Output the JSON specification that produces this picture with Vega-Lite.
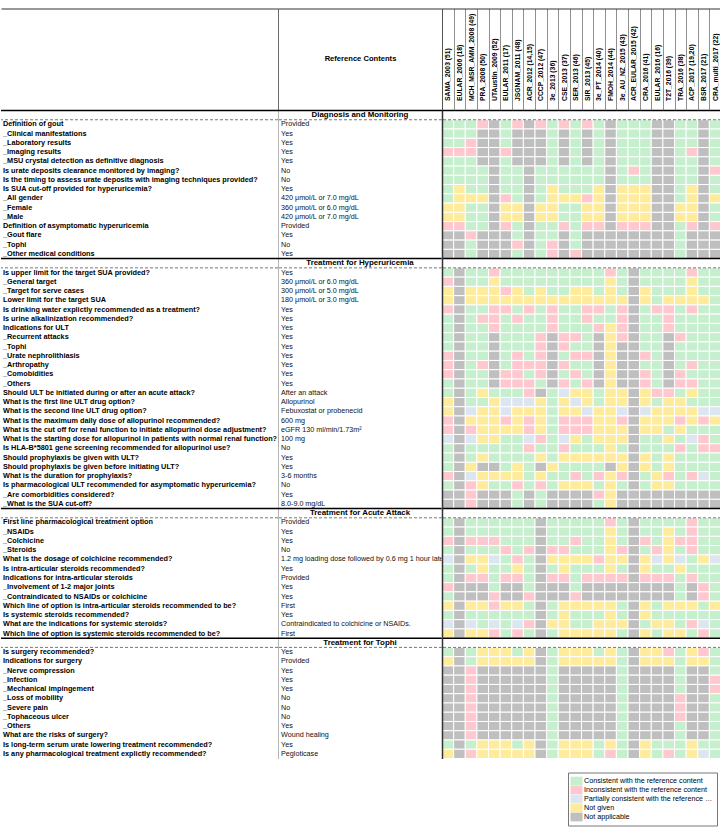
{
"$schema":"https://vega.github.io/schema/vega-lite/v6.json",
"padding":{"left":0,"top":7.5,"right":0,"bottom":0},
"background":"white",
"config":{"view":{"stroke":null},"font":"Liberation Sans"},
"spacing":0,
"bounds":"flush",
"datasets":{
"cols":[{"k":"A","o":0,"name":"SAMA_2003 (51)"},{"k":"B","o":1,"name":"EULAR_2006 (18)"},{"k":"C","o":2,"name":"MCH_MSR_AMM_2008 (49)"},{"k":"D","o":3,"name":"PRA_2008 (50)"},{"k":"E","o":4,"name":"UTAustin_2009 (52)"},{"k":"F","o":5,"name":"EULAR_2011 (17)"},{"k":"G","o":6,"name":"JSGNAM_2011 (48)"},{"k":"H","o":7,"name":"ACR_2012 (14,15)"},{"k":"I","o":8,"name":"CCCP_2012 (47)"},{"k":"J","o":9,"name":"3e_2013 (36)"},{"k":"K","o":10,"name":"CSE_2013 (37)"},{"k":"L","o":11,"name":"SER_2013 (46)"},{"k":"M","o":12,"name":"SIR_2013 (45)"},{"k":"N","o":13,"name":"3e_PT_2014 (40)"},{"k":"O","o":14,"name":"FMOH_2014 (44)"},{"k":"P","o":15,"name":"3e_AU_NZ_2015 (43)"},{"k":"Q","o":16,"name":"ACR_EULAR_2015 (42)"},{"k":"R","o":17,"name":"CRA_2016 (41)"},{"k":"S","o":18,"name":"EULAR_2016 (16)"},{"k":"T","o":19,"name":"T2T_2016 (39)"},{"k":"U","o":20,"name":"TRA_2016 (38)"},{"k":"V","o":21,"name":"ACP_2017 (19,20)"},{"k":"W","o":22,"name":"BSR_2017 (21)"},{"k":"X","o":23,"name":"CRA_multi_2017 (22)"}],
"t":[
{"idx":0,"sec":"Diagnosis and Monitoring","q":"","ref":""},
{"idx":1,"q":"Definition of gout","ref":"Provided","A":"G","B":"G","C":"G","D":"R","E":"X","F":"G","G":"R","H":"X","I":"R","J":"G","K":"R","L":"G","M":"R","N":"G","O":"X","P":"G","Q":"G","R":"G","S":"X","T":"X","U":"G","V":"G","W":"X","X":"G"},
{"idx":2,"q":"_Clinical manifestations","ref":"Yes","A":"G","B":"G","C":"G","D":"X","E":"X","F":"G","G":"X","H":"X","I":"X","J":"G","K":"X","L":"G","M":"X","N":"G","O":"X","P":"G","Q":"G","R":"G","S":"X","T":"X","U":"G","V":"G","W":"X","X":"G"},
{"idx":3,"q":"_Laboratory results","ref":"Yes","A":"G","B":"G","C":"R","D":"X","E":"X","F":"G","G":"X","H":"X","I":"X","J":"G","K":"X","L":"G","M":"X","N":"G","O":"X","P":"G","Q":"G","R":"G","S":"X","T":"X","U":"G","V":"G","W":"X","X":"G"},
{"idx":4,"q":"_Imaging results","ref":"Yes","A":"R","B":"R","C":"R","D":"X","E":"X","F":"R","G":"X","H":"X","I":"X","J":"G","K":"X","L":"G","M":"X","N":"G","O":"X","P":"G","Q":"G","R":"G","S":"X","T":"X","U":"G","V":"R","W":"X","X":"G"},
{"idx":5,"q":"_MSU crystal detection as definitive diagnosis","ref":"Yes","A":"G","B":"G","C":"G","D":"X","E":"X","F":"G","G":"X","H":"X","I":"X","J":"G","K":"X","L":"G","M":"X","N":"G","O":"X","P":"G","Q":"G","R":"G","S":"X","T":"X","U":"G","V":"G","W":"X","X":"G"},
{"idx":6,"q":"Is urate deposits clearance monitored by imaging?","ref":"No","A":"G","B":"G","C":"G","D":"G","E":"X","F":"G","G":"G","H":"X","I":"G","J":"G","K":"G","L":"G","M":"G","N":"G","O":"X","P":"G","Q":"R","R":"G","S":"X","T":"X","U":"G","V":"G","W":"X","X":"R"},
{"idx":7,"q":"Is the timing to assess urate deposits with imaging techniques provided?","ref":"No","A":"G","B":"G","C":"G","D":"G","E":"X","F":"G","G":"G","H":"X","I":"G","J":"G","K":"G","L":"G","M":"G","N":"G","O":"X","P":"G","Q":"G","R":"G","S":"X","T":"X","U":"G","V":"G","W":"X","X":"G"},
{"idx":8,"q":"Is SUA cut-off provided for hyperuricemia?","ref":"Yes","A":"G","B":"Y","C":"G","D":"G","E":"X","F":"G","G":"G","H":"X","I":"G","J":"Y","K":"G","L":"G","M":"G","N":"Y","O":"X","P":"Y","Q":"Y","R":"Y","S":"X","T":"X","U":"G","V":"Y","W":"X","X":"G"},
{"idx":9,"q":"_All gender","ref":"420 μmol/L or 7.0 mg/dL","A":"G","B":"Y","C":"Y","D":"Y","E":"X","F":"R","G":"G","H":"X","I":"G","J":"Y","K":"Y","L":"Y","M":"R","N":"Y","O":"X","P":"Y","Q":"Y","R":"Y","S":"X","T":"X","U":"G","V":"Y","W":"X","X":"Y"},
{"idx":10,"q":"_Female","ref":"360 μmol/L or 6.0 mg/dL","A":"Y","B":"Y","C":"G","D":"G","E":"X","F":"Y","G":"Y","H":"X","I":"Y","J":"Y","K":"G","L":"G","M":"Y","N":"Y","O":"X","P":"Y","Q":"Y","R":"Y","S":"X","T":"X","U":"Y","V":"Y","W":"X","X":"G"},
{"idx":11,"q":"_Male","ref":"420 μmol/L or 7.0 mg/dL","A":"Y","B":"Y","C":"G","D":"G","E":"X","F":"Y","G":"Y","H":"X","I":"Y","J":"Y","K":"G","L":"G","M":"Y","N":"Y","O":"X","P":"Y","Q":"Y","R":"Y","S":"X","T":"X","U":"Y","V":"Y","W":"X","X":"G"},
{"idx":12,"q":"Definition of asymptomatic hyperuricemia","ref":"Provided","A":"R","B":"R","C":"G","D":"G","E":"X","F":"R","G":"G","H":"X","I":"G","J":"G","K":"R","L":"G","M":"R","N":"R","O":"X","P":"R","Q":"R","R":"R","S":"X","T":"X","U":"G","V":"R","W":"X","X":"R"},
{"idx":13,"q":"_Gout flare","ref":"Yes","A":"X","B":"X","C":"R","D":"X","E":"X","F":"X","G":"G","H":"X","I":"G","J":"G","K":"X","L":"G","M":"X","N":"X","O":"X","P":"X","Q":"X","R":"X","S":"X","T":"X","U":"G","V":"X","W":"X","X":"X"},
{"idx":14,"q":"_Tophi","ref":"No","A":"X","B":"X","C":"G","D":"X","E":"X","F":"X","G":"R","H":"X","I":"G","J":"R","K":"X","L":"G","M":"X","N":"X","O":"X","P":"X","Q":"X","R":"X","S":"X","T":"X","U":"G","V":"X","W":"X","X":"X"},
{"idx":15,"q":"_Other medical conditions","ref":"Yes","A":"X","B":"X","C":"G","D":"X","E":"X","F":"X","G":"G","H":"X","I":"G","J":"R","K":"X","L":"R","M":"X","N":"X","O":"X","P":"X","Q":"X","R":"X","S":"X","T":"X","U":"G","V":"X","W":"X","X":"X"},
{"idx":16,"sec":"Treatment for Hyperuricemia","q":"","ref":""},
{"idx":17,"q":"Is upper limit for the target SUA provided?","ref":"Yes","A":"G","B":"X","C":"G","D":"G","E":"R","F":"G","G":"G","H":"G","I":"G","J":"G","K":"G","L":"G","M":"G","N":"G","O":"R","P":"G","Q":"X","R":"G","S":"G","T":"G","U":"G","V":"R","W":"G","X":"G"},
{"idx":18,"q":"_General target","ref":"360 μmol/L or 6.0 mg/dL","A":"R","B":"X","C":"G","D":"G","E":"Y","F":"G","G":"G","H":"G","I":"G","J":"G","K":"G","L":"G","M":"G","N":"G","O":"Y","P":"G","Q":"X","R":"G","S":"G","T":"G","U":"G","V":"Y","W":"G","X":"G"},
{"idx":19,"q":"_Target for serve cases","ref":"300 μmol/L or 5.0 mg/dL","A":"Y","B":"X","C":"Y","D":"Y","E":"Y","F":"R","G":"Y","H":"G","I":"Y","J":"G","K":"G","L":"Y","M":"Y","N":"G","O":"Y","P":"G","Q":"X","R":"Y","S":"G","T":"G","U":"G","V":"Y","W":"G","X":"G"},
{"idx":20,"q":"Lower limit for the target SUA","ref":"180 μmol/L or 3.0 mg/dL","A":"Y","B":"X","C":"Y","D":"Y","E":"Y","F":"Y","G":"Y","H":"Y","I":"Y","J":"Y","K":"Y","L":"Y","M":"Y","N":"Y","O":"Y","P":"Y","Q":"X","R":"Y","S":"G","T":"Y","U":"Y","V":"Y","W":"Y","X":"G"},
{"idx":21,"q":"Is drinking water explictly recommended as a treatment?","ref":"Yes","A":"R","B":"X","C":"G","D":"G","E":"R","F":"R","G":"G","H":"R","I":"G","J":"R","K":"G","L":"G","M":"R","N":"R","O":"G","P":"R","Q":"X","R":"G","S":"R","T":"R","U":"G","V":"R","W":"G","X":"G"},
{"idx":22,"q":"Is urine alkalinization recommended?","ref":"Yes","A":"G","B":"X","C":"G","D":"R","E":"R","F":"G","G":"R","H":"G","I":"G","J":"R","K":"G","L":"G","M":"R","N":"G","O":"G","P":"R","Q":"X","R":"G","S":"G","T":"R","U":"G","V":"G","W":"G","X":"G"},
{"idx":23,"q":"Indications for ULT","ref":"Yes","A":"G","B":"X","C":"G","D":"G","E":"R","F":"G","G":"G","H":"G","I":"G","J":"R","K":"G","L":"G","M":"G","N":"R","O":"Y","P":"R","Q":"X","R":"G","S":"G","T":"R","U":"G","V":"G","W":"G","X":"G"},
{"idx":24,"q":"_Recurrent attacks","ref":"Yes","A":"G","B":"X","C":"G","D":"G","E":"X","F":"G","G":"G","H":"G","I":"R","J":"X","K":"R","L":"R","M":"G","N":"X","O":"Y","P":"R","Q":"X","R":"G","S":"G","T":"X","U":"R","V":"G","W":"G","X":"G"},
{"idx":25,"q":"_Tophi","ref":"Yes","A":"G","B":"X","C":"G","D":"G","E":"X","F":"G","G":"G","H":"G","I":"R","J":"X","K":"R","L":"G","M":"G","N":"X","O":"Y","P":"X","Q":"X","R":"G","S":"G","T":"X","U":"G","V":"G","W":"G","X":"G"},
{"idx":26,"q":"_Urate nephrolithiasis","ref":"Yes","A":"R","B":"X","C":"G","D":"G","E":"X","F":"G","G":"R","H":"G","I":"R","J":"X","K":"G","L":"R","M":"R","N":"X","O":"Y","P":"X","Q":"X","R":"R","S":"G","T":"X","U":"G","V":"G","W":"G","X":"G"},
{"idx":27,"q":"_Arthropathy","ref":"Yes","A":"R","B":"X","C":"G","D":"R","E":"X","F":"G","G":"R","H":"R","I":"R","J":"X","K":"R","L":"G","M":"G","N":"X","O":"Y","P":"X","Q":"X","R":"G","S":"G","T":"X","U":"G","V":"R","W":"G","X":"G"},
{"idx":28,"q":"_Comobidities","ref":"Yes","A":"R","B":"X","C":"G","D":"G","E":"X","F":"R","G":"R","H":"G","I":"R","J":"X","K":"G","L":"R","M":"G","N":"X","O":"Y","P":"X","Q":"X","R":"R","S":"G","T":"X","U":"R","V":"G","W":"G","X":"G"},
{"idx":29,"q":"_Others","ref":"Yes","A":"G","B":"X","C":"G","D":"G","E":"X","F":"R","G":"R","H":"R","I":"G","J":"X","K":"R","L":"G","M":"R","N":"X","O":"Y","P":"X","Q":"X","R":"R","S":"G","T":"X","U":"R","V":"R","W":"G","X":"G"},
{"idx":30,"q":"Should ULT be initiated during or after an acute attack?","ref":"After an attack","A":"G","B":"X","C":"G","D":"Y","E":"G","F":"G","G":"G","H":"R","I":"X","J":"G","K":"B","L":"Y","M":"Y","N":"G","O":"Y","P":"Y","Q":"X","R":"Y","S":"R","T":"R","U":"G","V":"Y","W":"G","X":"G"},
{"idx":31,"q":"What is the first line ULT drug option?","ref":"Allopurinol","A":"Y","B":"X","C":"G","D":"G","E":"Y","F":"B","G":"B","H":"B","I":"Y","J":"G","K":"Y","L":"B","M":"Y","N":"G","O":"Y","P":"Y","Q":"X","R":"Y","S":"G","T":"Y","U":"Y","V":"G","W":"G","X":"G"},
{"idx":32,"q":"What is the second line ULT drug option?","ref":"Febuxostat or probenecid","A":"Y","B":"X","C":"B","D":"Y","E":"Y","F":"B","G":"Y","H":"Y","I":"Y","J":"G","K":"Y","L":"Y","M":"B","N":"Y","O":"Y","P":"B","Q":"X","R":"B","S":"Y","T":"Y","U":"Y","V":"Y","W":"B","X":"B"},
{"idx":33,"q":"What is the maximum daily dose of allopurinol recommended?","ref":"600 mg","A":"R","B":"X","C":"Y","D":"Y","E":"Y","F":"R","G":"Y","H":"R","I":"Y","J":"G","K":"R","L":"R","M":"R","N":"Y","O":"Y","P":"R","Q":"X","R":"Y","S":"Y","T":"Y","U":"R","V":"Y","W":"R","X":"Y"},
{"idx":34,"q":"What is the cut off for renal function to initiate allopurinol dose adjustment?","ref":"eGFR 130 ml/min/1.73m²","A":"R","B":"X","C":"R","D":"Y","E":"Y","F":"Y","G":"Y","H":"R","I":"Y","J":"G","K":"R","L":"R","M":"R","N":"Y","O":"Y","P":"Y","Q":"X","R":"Y","S":"Y","T":"G","U":"Y","V":"G","W":"G","X":"G"},
{"idx":35,"q":"What is the starting dose for allopurinol in patients with normal renal function?","ref":"100 mg","A":"B","B":"X","C":"B","D":"Y","E":"Y","F":"G","G":"G","H":"B","I":"R","J":"G","K":"B","L":"Y","M":"G","N":"Y","O":"Y","P":"Y","Q":"X","R":"G","S":"G","T":"Y","U":"G","V":"B","W":"R","X":"G"},
{"idx":36,"q":"Is HLA-B*5801 gene screening recommended for allopurinol use?","ref":"No","A":"G","B":"X","C":"G","D":"G","E":"G","F":"G","G":"G","H":"R","I":"G","J":"G","K":"R","L":"G","M":"G","N":"G","O":"Y","P":"G","Q":"X","R":"G","S":"G","T":"G","U":"R","V":"G","W":"R","X":"R"},
{"idx":37,"q":"Should prophylaxis be given with ULT?","ref":"Yes","A":"G","B":"X","C":"G","D":"Y","E":"G","F":"G","G":"G","H":"G","I":"Y","J":"G","K":"Y","L":"Y","M":"Y","N":"Y","O":"Y","P":"Y","Q":"X","R":"Y","S":"G","T":"Y","U":"G","V":"G","W":"G","X":"G"},
{"idx":38,"q":"Should prophylaxis be given before initiating ULT?","ref":"Yes","A":"G","B":"X","C":"Y","D":"X","E":"X","F":"G","G":"Y","H":"G","I":"X","J":"Y","K":"G","L":"G","M":"G","N":"G","O":"X","P":"Y","Q":"X","R":"Y","S":"G","T":"Y","U":"G","V":"G","W":"G","X":"G"},
{"idx":39,"q":"What is the duration for prophylaxis?","ref":"3-6 months","A":"R","B":"X","C":"B","D":"Y","E":"Y","F":"Y","G":"Y","H":"G","I":"Y","J":"G","K":"G","L":"R","M":"G","N":"R","O":"Y","P":"R","Q":"X","R":"G","S":"Y","T":"R","U":"G","V":"R","W":"B","X":"G"},
{"idx":40,"q":"Is pharmacological ULT recommended for asymptomatic hyperuricemia?","ref":"No","A":"G","B":"X","C":"R","D":"Y","E":"G","F":"G","G":"R","H":"G","I":"R","J":"G","K":"Y","L":"Y","M":"Y","N":"G","O":"Y","P":"G","Q":"X","R":"G","S":"Y","T":"Y","U":"G","V":"G","W":"G","X":"G"},
{"idx":41,"q":"_Are comorbidities considered?","ref":"Yes","A":"X","B":"X","C":"R","D":"X","E":"X","F":"X","G":"G","H":"X","I":"G","J":"X","K":"X","L":"X","M":"X","N":"R","O":"Y","P":"X","Q":"X","R":"X","S":"X","T":"X","U":"X","V":"X","W":"X","X":"X"},
{"idx":42,"q":"_What is the SUA cut-off?","ref":"8.0-9.0 mg/dL","A":"X","B":"X","C":"R","D":"X","E":"X","F":"X","G":"G","H":"X","I":"G","J":"X","K":"X","L":"X","M":"X","N":"G","O":"Y","P":"X","Q":"X","R":"X","S":"X","T":"X","U":"X","V":"X","W":"X","X":"X"},
{"idx":43,"sec":"Treatment for Acute Attack","q":"","ref":""},
{"idx":44,"q":"First line pharmacological treatment option","ref":"Provided","A":"G","B":"X","C":"G","D":"G","E":"G","F":"G","G":"G","H":"G","I":"X","J":"G","K":"G","L":"G","M":"G","N":"G","O":"R","P":"G","Q":"X","R":"G","S":"G","T":"G","U":"G","V":"R","W":"G","X":"G"},
{"idx":45,"q":"_NSAIDs","ref":"Yes","A":"G","B":"X","C":"G","D":"G","E":"G","F":"G","G":"G","H":"G","I":"X","J":"G","K":"G","L":"G","M":"G","N":"G","O":"Y","P":"G","Q":"X","R":"G","S":"G","T":"Y","U":"G","V":"R","W":"G","X":"G"},
{"idx":46,"q":"_Colchicine","ref":"Yes","A":"R","B":"X","C":"R","D":"R","E":"R","F":"G","G":"G","H":"G","I":"X","J":"G","K":"G","L":"R","M":"G","N":"G","O":"Y","P":"G","Q":"X","R":"R","S":"G","T":"Y","U":"R","V":"R","W":"G","X":"G"},
{"idx":47,"q":"_Steroids","ref":"No","A":"G","B":"X","C":"G","D":"G","E":"G","F":"R","G":"G","H":"R","I":"X","J":"R","K":"R","L":"G","M":"G","N":"G","O":"Y","P":"R","Q":"X","R":"G","S":"R","T":"Y","U":"G","V":"R","W":"G","X":"G"},
{"idx":48,"q":"What is the dosage of colchicine recommended?","ref":"1.2 mg loading dose followed by 0.6 mg 1 hour later","A":"B","B":"X","C":"Y","D":"Y","E":"B","F":"G","G":"R","H":"G","I":"X","J":"Y","K":"Y","L":"Y","M":"Y","N":"R","O":"Y","P":"Y","Q":"X","R":"Y","S":"B","T":"Y","U":"B","V":"G","W":"Y","X":"B"},
{"idx":49,"q":"Is intra-articular steroids recommended?","ref":"Yes","A":"G","B":"X","C":"G","D":"Y","E":"G","F":"G","G":"Y","H":"G","I":"X","J":"G","K":"Y","L":"G","M":"G","N":"G","O":"Y","P":"G","Q":"X","R":"Y","S":"G","T":"G","U":"Y","V":"G","W":"G","X":"G"},
{"idx":50,"q":"Indications for intra-articular steroids","ref":"Provided","A":"G","B":"X","C":"R","D":"R","E":"G","F":"R","G":"R","H":"G","I":"X","J":"R","K":"R","L":"G","M":"R","N":"R","O":"R","P":"R","Q":"X","R":"R","S":"R","T":"R","U":"G","V":"R","W":"G","X":"G"},
{"idx":51,"q":"_Involvement of 1-2 major joints","ref":"Yes","A":"R","B":"X","C":"X","D":"X","E":"G","F":"X","G":"X","H":"G","I":"X","J":"X","K":"X","L":"G","M":"X","N":"X","O":"X","P":"X","Q":"X","R":"X","S":"X","T":"X","U":"G","V":"X","W":"R","X":"G"},
{"idx":52,"q":"_Contraindicated to NSAIDs or colchicine","ref":"Yes","A":"G","B":"X","C":"X","D":"X","E":"R","F":"X","G":"X","H":"R","I":"X","J":"X","K":"X","L":"R","M":"X","N":"X","O":"X","P":"X","Q":"X","R":"X","S":"X","T":"X","U":"G","V":"X","W":"R","X":"G"},
{"idx":53,"q":"Which line of option is intra-articular steroids recommended to be?","ref":"First","A":"Y","B":"X","C":"Y","D":"Y","E":"R","F":"Y","G":"Y","H":"G","I":"X","J":"G","K":"Y","L":"Y","M":"Y","N":"Y","O":"Y","P":"G","Q":"X","R":"Y","S":"G","T":"Y","U":"Y","V":"Y","W":"G","X":"Y"},
{"idx":54,"q":"Is systemic steroids recommended?","ref":"Yes","A":"G","B":"X","C":"G","D":"G","E":"G","F":"G","G":"G","H":"G","I":"X","J":"G","K":"Y","L":"G","M":"G","N":"G","O":"Y","P":"G","Q":"X","R":"Y","S":"G","T":"G","U":"G","V":"G","W":"G","X":"G"},
{"idx":55,"q":"What are the indications for systemic steroids?","ref":"Contraindicated to colchicine or NSAIDs.","A":"B","B":"X","C":"B","D":"G","E":"B","F":"G","G":"B","H":"R","I":"X","J":"Y","K":"Y","L":"G","M":"G","N":"Y","O":"Y","P":"Y","Q":"X","R":"G","S":"Y","T":"Y","U":"G","V":"R","W":"B","X":"G"},
{"idx":56,"q":"Which line of option is systemic steroids recommended to be?","ref":"First","A":"Y","B":"X","C":"Y","D":"Y","E":"R","F":"G","G":"R","H":"G","I":"X","J":"G","K":"Y","L":"Y","M":"Y","N":"Y","O":"Y","P":"G","Q":"X","R":"Y","S":"G","T":"Y","U":"Y","V":"G","W":"R","X":"G"},
{"idx":57,"sec":"Treatment for Tophi","q":"","ref":""},
{"idx":58,"q":"Is surgery recommended?","ref":"Yes","A":"G","B":"X","C":"G","D":"Y","E":"Y","F":"Y","G":"G","H":"Y","I":"X","J":"G","K":"Y","L":"Y","M":"Y","N":"G","O":"Y","P":"G","Q":"X","R":"Y","S":"Y","T":"R","U":"G","V":"Y","W":"R","X":"G"},
{"idx":59,"q":"Indications for surgery","ref":"Provided","A":"Y","B":"X","C":"G","D":"Y","E":"Y","F":"Y","G":"Y","H":"Y","I":"X","J":"G","K":"Y","L":"Y","M":"Y","N":"Y","O":"Y","P":"G","Q":"X","R":"Y","S":"Y","T":"Y","U":"G","V":"Y","W":"Y","X":"G"},
{"idx":60,"q":"_Nerve compression","ref":"Yes","A":"X","B":"X","C":"R","D":"X","E":"X","F":"X","G":"X","H":"X","I":"X","J":"G","K":"X","L":"X","M":"X","N":"X","O":"X","P":"G","Q":"X","R":"X","S":"X","T":"X","U":"G","V":"X","W":"X","X":"G"},
{"idx":61,"q":"_Infection","ref":"Yes","A":"X","B":"X","C":"R","D":"X","E":"X","F":"X","G":"X","H":"X","I":"X","J":"G","K":"X","L":"X","M":"X","N":"X","O":"X","P":"G","Q":"X","R":"X","S":"X","T":"X","U":"G","V":"X","W":"X","X":"R"},
{"idx":62,"q":"_Mechanical impingement","ref":"Yes","A":"X","B":"X","C":"R","D":"X","E":"X","F":"X","G":"X","H":"X","I":"X","J":"G","K":"X","L":"X","M":"X","N":"X","O":"X","P":"G","Q":"X","R":"X","S":"X","T":"X","U":"G","V":"X","W":"X","X":"R"},
{"idx":63,"q":"_Loss of mobility","ref":"No","A":"X","B":"X","C":"R","D":"X","E":"X","F":"X","G":"X","H":"X","I":"X","J":"G","K":"X","L":"X","M":"X","N":"X","O":"X","P":"G","Q":"X","R":"X","S":"X","T":"X","U":"R","V":"X","W":"X","X":"G"},
{"idx":64,"q":"_Severe pain","ref":"No","A":"X","B":"X","C":"R","D":"X","E":"X","F":"X","G":"X","H":"X","I":"X","J":"G","K":"X","L":"X","M":"X","N":"X","O":"X","P":"G","Q":"X","R":"X","S":"X","T":"X","U":"R","V":"X","W":"X","X":"G"},
{"idx":65,"q":"_Tophaceous ulcer","ref":"No","A":"X","B":"X","C":"R","D":"X","E":"X","F":"X","G":"X","H":"X","I":"X","J":"G","K":"X","L":"X","M":"X","N":"X","O":"X","P":"G","Q":"X","R":"X","S":"X","T":"X","U":"R","V":"X","W":"X","X":"G"},
{"idx":66,"q":"_Others","ref":"Yes","A":"X","B":"X","C":"R","D":"X","E":"X","F":"X","G":"X","H":"X","I":"X","J":"G","K":"X","L":"X","M":"X","N":"X","O":"X","P":"G","Q":"X","R":"X","S":"X","T":"X","U":"G","V":"X","W":"X","X":"G"},
{"idx":67,"q":"What are the risks of surgery?","ref":"Wound healing","A":"X","B":"X","C":"R","D":"X","E":"X","F":"X","G":"X","H":"X","I":"X","J":"G","K":"X","L":"X","M":"X","N":"X","O":"X","P":"G","Q":"X","R":"X","S":"X","T":"X","U":"G","V":"X","W":"X","X":"G"},
{"idx":68,"q":"Is long-term serum urate lowering treatment recommended?","ref":"Yes","A":"G","B":"X","C":"G","D":"Y","E":"Y","F":"Y","G":"G","H":"Y","I":"X","J":"G","K":"Y","L":"Y","M":"Y","N":"G","O":"Y","P":"G","Q":"X","R":"Y","S":"G","T":"G","U":"G","V":"Y","W":"G","X":"G"},
{"idx":69,"q":"Is any pharmacological treatment explictly recommended?","ref":"Pegloticase","A":"Y","B":"X","C":"R","D":"Y","E":"Y","F":"Y","G":"Y","H":"Y","I":"X","J":"G","K":"Y","L":"Y","M":"Y","N":"G","O":"R","P":"G","Q":"X","R":"Y","S":"G","T":"R","U":"G","V":"Y","W":"B","X":"G"}
]},
"hconcat":[
{"width":277,"height":648,"data":{"name":"t"},
 "layer":[
  {"mark":{"type":"text","align":"left","dx":2,"fontSize":7.3,"fontWeight":"bold","font":"Liberation Sans","color":"#000"},
   "encoding":{"y":{"field":"idx","type":"ordinal","axis":null},
     "x":{"datum":0,"type":"quantitative","scale":{"domain":[0,1],"nice":false,"zero":false},"axis":{"orient":"top","offset":102,"domain":true,"domainColor":"#333","domainWidth":1,"ticks":false,"labels":false,"grid":false,"title":null}},
     "text":{"field":"q"}}},
  {"transform":[{"filter":"isValid(datum.sec)"}],"mark":{"type":"rule","color":"#000","strokeWidth":1.5},"encoding":{"y":{"field":"idx","type":"ordinal","bandPosition":0,"axis":null}}},
  {"transform":[{"filter":"isValid(datum.sec)"}],"mark":{"type":"rule","color":"#555","strokeWidth":0.8,"strokeDash":[3,2]},"encoding":{"y":{"field":"idx","type":"ordinal","bandPosition":1,"axis":null}}}
 ]},
{"width":164,"height":648,"data":{"name":"t"},
 "layer":[
  {"mark":{"type":"text","align":"left","dx":3,"fontSize":7.2,"font":"Liberation Sans","color":"#111"},
   "encoding":{"y":{"field":"idx","type":"ordinal","axis":{"orient":"left","domain":true,"domainColor":"#b5b5b5","domainWidth":1,"ticks":false,"labels":false,"grid":false,"title":null}},
     "x":{"datum":0,"type":"quantitative","scale":{"domain":[0,1],"nice":false,"zero":false},"axis":{"orient":"top","offset":102,"domain":true,"domainColor":"#333","domainWidth":1,"ticks":true,"values":[0,1],"tickSize":-102,"tickColor":"#444","tickWidth":0.8,"labels":false,"grid":false,"title":"Reference Contents","titleY":50,"titleX":82,"titleAnchor":"middle","titleAlign":"center","titleBaseline":"middle","titleFontSize":7.6,"titleFontWeight":"bold","titleFont":"Liberation Sans","titleColor":"#000"}},
     "text":{"field":"ref"}}},
  {"transform":[{"filter":"isValid(datum.sec)"}],"mark":{"type":"text","align":"center","fontSize":7.9,"fontWeight":"bold","font":"Liberation Sans","color":"#000"},
   "encoding":{"y":{"field":"idx","type":"ordinal"},"x":{"datum":0.5,"type":"quantitative"},"text":{"field":"sec"}}},
  {"transform":[{"filter":"isValid(datum.sec)"}],"mark":{"type":"rule","color":"#000","strokeWidth":1.5},"encoding":{"y":{"field":"idx","type":"ordinal","bandPosition":0}}},
  {"transform":[{"filter":"isValid(datum.sec)"}],"mark":{"type":"rule","color":"#555","strokeWidth":0.8,"strokeDash":[3,2]},"encoding":{"y":{"field":"idx","type":"ordinal","bandPosition":1}}}
 ]},
{"width":279,"height":648,"data":{"name":"t"},
 "layer":[
  {"transform":[{"fold":["A","B","C","D","E","F","G","H","I","J","K","L","M","N","O","P","Q","R","S","T","U","V","W","X"],"as":["k","v"]},{"filter":"isValid(datum.v)"},{"lookup":"k","from":{"data":{"name":"cols"},"key":"k","fields":["name","o"]}}],
   "mark":{"type":"rect","stroke":"white","strokeWidth":1},
   "encoding":{
     "y":{"field":"idx","type":"ordinal","axis":{"orient":"left","domain":true,"domainColor":"#333","domainWidth":1.5,"ticks":false,"labels":false,"grid":false,"title":null}},
     "x":{"field":"name","type":"nominal","sort":{"field":"o","op":"min"},"scale":{"paddingInner":0,"paddingOuter":0},
       "axis":{"orient":"top","offset":102,"domain":true,"domainColor":"#333","domainWidth":1,"ticks":true,"tickBand":"extent","tickSize":-102,"tickColor":"#444","tickWidth":0.6,"labels":true,"labelAngle":-90,"labelAlign":"left","labelBaseline":"middle","labelPadding":10,"labelFontSize":6.8,"labelFontWeight":"bold","labelFont":"Liberation Sans","labelColor":"#000","labelOverlap":false,"labelLimit":0,"labelFlush":false,"grid":false,"title":null}},
     "color":{"field":"v","type":"nominal","scale":{"domain":["G","R","B","Y","X"],"range":["#c6efce","#ffc7ce","#dce6f1","#ffeb9c","#bfbfbf"]},
       "legend":{"orient":"none","legendX":567,"legendY":662,"title":null,"direction":"vertical","symbolType":"M-1.36,-0.98H1.36V0.98H-1.36Z","symbolSize":78,"symbolStrokeWidth":0,"symbolOpacity":1,"labelFont":"Liberation Sans","labelFontSize":7.2,"labelColor":"#000","labelLimit":130,"labelOffset":3,"rowPadding":0,"padding":4,"strokeColor":"#777","fillColor":"#fff","labelExpr":"datum.label=='G'?'Consistent with the reference content':datum.label=='R'?'Inconsistent with the reference content':datum.label=='B'?'Partially consistent with the reference content':datum.label=='Y'?'Not given':'Not applicable'"}}}},
  {"transform":[{"filter":"isValid(datum.sec)"}],"mark":{"type":"rule","color":"#000","strokeWidth":1.5},"encoding":{"y":{"field":"idx","type":"ordinal","bandPosition":0}}},
  {"transform":[{"filter":"isValid(datum.sec)"}],"mark":{"type":"rule","color":"#555","strokeWidth":0.8,"strokeDash":[3,2]},"encoding":{"y":{"field":"idx","type":"ordinal","bandPosition":1}}}
 ]}
]
}
